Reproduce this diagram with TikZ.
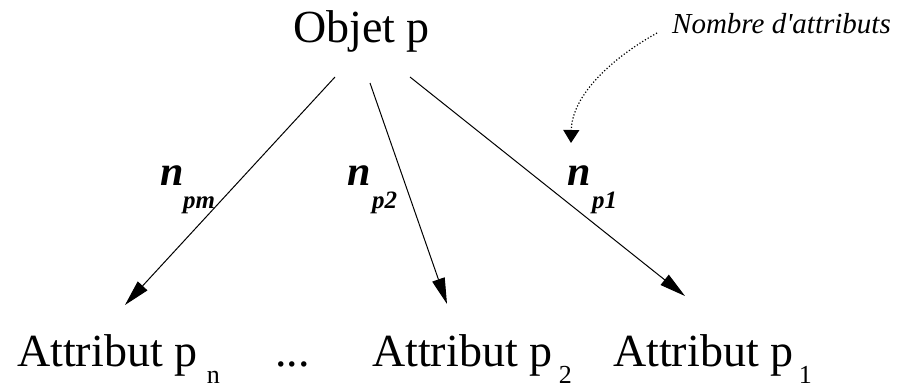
\documentclass[tikz,border=0pt]{standalone}
\usepackage{fontspec}
\setmainfont{Liberation Serif}
\usetikzlibrary{arrows.meta}
\tikzset{
  big/.style={inner sep=0pt, anchor=base west, font=\fontsize{46}{50}\selectfont},
  sub/.style={inner sep=0pt, anchor=base west, font=\fontsize{26}{27}\selectfont},
  nlab/.style={inner sep=0pt, anchor=base west, font=\fontsize{42}{44}\selectfont\bfseries\itshape},
  nsub/.style={inner sep=0pt, anchor=base west, font=\fontsize{25}{26}\selectfont\bfseries\itshape},
  note/.style={inner sep=0pt, anchor=base west, font=\fontsize{29}{31}\selectfont\itshape},
  conn/.style={line width=1pt, -{Triangle[length=26pt,width=13pt]}},
  dotconn/.style={line width=1.2pt, dotted, -{Triangle[length=13pt,width=16pt]}}
}
\begin{document}
\begin{tikzpicture}[x=1pt,y=-1pt]
\fill[white] (0,0) rectangle (913,388);
\useasboundingbox (0,0) rectangle (913,388);

\node[big] (obj) at (293,42) {Objet p};
\node[note] (nb) at (672,33) {Nombre d\textquotesingle attributs};

\node[big] (an) at (17,366) {Attribut p};
\node[sub] (ann) at (an.base east) [xshift=9pt, yshift=-17pt] {n};
\node[big] (dots) at (275,366) {...};
\node[big] (a2) at (372,366) {Attribut p};
\node[sub] (a2s) at (a2.base east) [xshift=6pt, yshift=-17pt] {2};
\node[big] (a1) at (613,366) {Attribut p};
\node[sub] (a1s) at (a1.base east) [xshift=5pt, yshift=-17pt] {1};

\node[nlab] (npm) at (160,185) {n};
\node[nsub] (npms) at (183,208) {pm};
\node[nlab] (np2) at (347,185) {n};
\node[nsub] (np2s) at (372,208) {p2};
\node[nlab] (np1) at (567,185) {n};
\node[nsub] (np1s) at (592,208) {p1};

\coordinate (s1) at (335,77);
\coordinate (s2) at (370,83);
\coordinate (s3) at (410,77);
\coordinate (e1) at (125,305);
\coordinate (e2) at (447,304);
\coordinate (e3) at (685,296);
\coordinate (ds) at (657,33);
\coordinate (de) at (571,143);

\draw[conn] (s1) -- (e1);
\draw[conn] (s2) -- (e2);
\draw[conn] (s3) -- (e3);
\draw[dotconn] (ds) .. controls (612,58) and (572,95) .. (de);
\end{tikzpicture}
\end{document}
